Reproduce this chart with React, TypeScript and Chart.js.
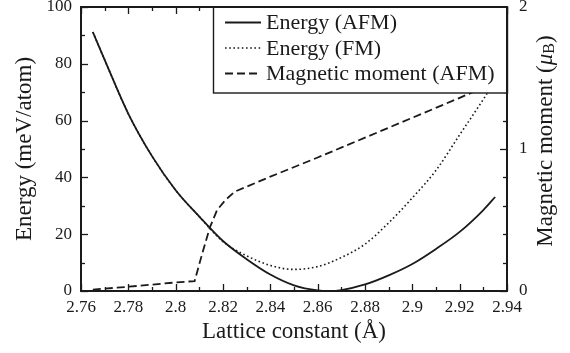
import React, { useEffect, useRef } from "react";
import { Chart, registerables } from "chart.js";

Chart.register(...registerables);

// ---- data ----
const afmX = [2.765, 2.77, 2.78, 2.79, 2.8, 2.81, 2.82, 2.83, 2.84, 2.85, 2.86, 2.865, 2.87, 2.88, 2.89, 2.9, 2.91, 2.92, 2.93, 2.935];
const afmE = [91.2, 81.4, 62.4, 47.5, 35.5, 26.2, 17.6, 11.2, 5.8, 2.0, 0.2, 0.0, 0.3, 2.3, 5.5, 9.5, 14.8, 20.8, 28.5, 33.1];

const fmX = [2.765, 2.77, 2.78, 2.79, 2.8, 2.81, 2.82, 2.83, 2.84, 2.85, 2.86, 2.87, 2.88, 2.89, 2.9, 2.91, 2.92, 2.93, 2.935];
const fmE = [91.2, 81.4, 62.4, 47.5, 35.5, 26.2, 17.4, 12.4, 9.0, 7.6, 8.6, 11.8, 16.5, 24.0, 32.8, 42.5, 55.0, 67.5, 74.0];

const momX = [2.765, 2.78, 2.79, 2.8, 2.808, 2.811, 2.8145, 2.8175, 2.821, 2.825, 2.84, 2.86, 2.88, 2.9, 2.92, 2.935];
const momM = [0.01, 0.03, 0.045, 0.06, 0.07, 0.25, 0.45, 0.57, 0.64, 0.7, 0.805, 0.94, 1.08, 1.22, 1.36, 1.47];

const xTicks = [2.76, 2.78, 2.8, 2.82, 2.84, 2.86, 2.88, 2.9, 2.92, 2.94];
const yTicks = [0, 20, 40, 60, 80, 100];
const y1Ticks = [0, 1, 2];

const legendLabels = ["Energy (AFM)", "Energy (FM)", "Magnetic moment (AFM)"];
const xTitle = "Lattice constant (Å)";
const yTitle = "Energy (meV/atom)";

const FONT = "'Liberation Serif', 'Times New Roman', serif";
const INK = "#1a1a1a";

const DOT = [1.6, 2.6];
const DASH = [8, 4];

function toPts(xs: number[], ys: number[]) {
  return xs.map((x, i) => ({ x, y: ys[i] }));
}

const framePlugin = {
  id: "frame",
  beforeDatasetsDraw(chart: any) {
    const { ctx, chartArea: a, scales } = chart;
    const xs = scales.x, ys = scales.y, y1 = scales.y1;
    ctx.save();
    ctx.strokeStyle = INK;
    ctx.lineWidth = 1.3;
    for (let i = 0; i <= 18; i++) {
      const v = 2.76 + i * 0.01;
      const p = Math.round(xs.getPixelForValue(v)) + 0.5;
      const len = i % 2 === 0 ? 7 : 4;
      ctx.beginPath();
      ctx.moveTo(p, a.bottom);
      ctx.lineTo(p, a.bottom - len);
      ctx.moveTo(p, a.top);
      ctx.lineTo(p, a.top + len);
      ctx.stroke();
    }
    for (let i = 0; i <= 10; i++) {
      const p = Math.round(ys.getPixelForValue(i * 10)) + 0.5;
      const len = i % 2 === 0 ? 7 : 4;
      ctx.beginPath();
      ctx.moveTo(a.left, p);
      ctx.lineTo(a.left + len, p);
      ctx.stroke();
    }
    for (let i = 0; i <= 10; i++) {
      const p = Math.round(y1.getPixelForValue(i * 0.2)) + 0.5;
      const len = i % 5 === 0 ? 7 : 4;
      ctx.beginPath();
      ctx.moveTo(a.right, p);
      ctx.lineTo(a.right - len, p);
      ctx.stroke();
    }
    ctx.restore();
  },
  afterDatasetsDraw(chart: any) {
    const { ctx, chartArea: a } = chart;
    ctx.save();
    // frame
    ctx.lineWidth = 2;
    ctx.strokeStyle = INK;
    ctx.strokeRect(a.left, a.top, a.right - a.left, a.bottom - a.top);
    // legend box
    const bx = 213, by = a.top, bw = a.right - 213, bh = 93 - a.top;
    ctx.fillStyle = "#ffffff";
    ctx.fillRect(bx, by, bw, bh);
    ctx.strokeStyle = INK;
    ctx.lineWidth = 1.4;
    ctx.strokeRect(bx + 0.5, by, bw, bh);
    ctx.lineWidth = 2;
    ctx.beginPath();
    ctx.moveTo(bx, a.top);
    ctx.lineTo(a.right, a.top);
    ctx.lineTo(a.right, 93);
    ctx.stroke();
    const rows = [22.5, 48, 73.5];
    const dashes = [[], DOT, DASH];
    const widths = [1.8, 1.6, 1.8];
    rows.forEach((ry, i) => {
      ctx.beginPath();
      ctx.setLineDash(dashes[i]);
      ctx.lineWidth = widths[i];
      ctx.moveTo(225, ry);
      ctx.lineTo(261, ry);
      ctx.stroke();
      ctx.setLineDash([]);
      ctx.fillStyle = INK;
      ctx.font = `22px ${FONT}`;
      ctx.textBaseline = "middle";
      ctx.textAlign = "left";
      ctx.fillText(legendLabels[i], 266, ry + 1);
    });
    ctx.restore();
  },
  afterDraw(chart: any) {
    const { ctx } = chart;
    ctx.save();
    ctx.translate(546, 141);
    ctx.rotate(-Math.PI / 2);
    ctx.fillStyle = INK;
    ctx.textBaseline = "middle";
    ctx.textAlign = "left";
    const main = `23px ${FONT}`;
    const ital = `italic 23px ${FONT}`;
    const sub = `16px ${FONT}`;
    const p1 = "Magnetic moment (";
    const mu = "μ";
    const b = "B";
    const p2 = ")";
    ctx.font = main;
    const w1 = ctx.measureText(p1).width;
    ctx.font = ital;
    const wm = ctx.measureText(mu).width;
    ctx.font = sub;
    const wb = ctx.measureText(b).width;
    ctx.font = main;
    const w2 = ctx.measureText(p2).width;
    const total = w1 + wm + wb + w2;
    let x = -total / 2;
    ctx.font = main;
    ctx.fillText(p1, x, 0);
    x += w1;
    ctx.font = ital;
    ctx.fillText(mu, x, 0);
    x += wm;
    ctx.font = sub;
    ctx.fillText(b, x, 4);
    x += wb;
    ctx.font = main;
    ctx.fillText(p2, x, 0);
    ctx.restore();
  },
};

export default function App() {
  const ref = useRef<HTMLCanvasElement>(null);
  useEffect(() => {
    document.body.style.margin = "0";
    const chart = new Chart(ref.current!, {
      type: "line",
      data: {
        datasets: [
          {
            label: legendLabels[0],
            data: toPts(afmX, afmE),
            borderColor: INK,
            borderWidth: 1.8,
            pointRadius: 0,
            cubicInterpolationMode: "monotone",
            yAxisID: "y",
          },
          {
            label: legendLabels[1],
            data: toPts(fmX, fmE),
            borderColor: INK,
            borderWidth: 1.6,
            borderDash: DOT,
            pointRadius: 0,
            cubicInterpolationMode: "monotone",
            yAxisID: "y",
          },
          {
            label: legendLabels[2],
            data: toPts(momX, momM),
            borderColor: INK,
            borderWidth: 1.8,
            borderDash: DASH,
            pointRadius: 0,
            tension: 0,
            yAxisID: "y1",
          },
        ],
      },
      options: {
        animation: false,
        responsive: false,
        devicePixelRatio: 1,
        layout: { padding: { top: 7, left: 0, right: 0, bottom: 0 } },
        plugins: { legend: { display: false }, tooltip: { enabled: false } },
        scales: {
          x: {
            type: "linear",
            min: 2.76,
            max: 2.94,
            grid: { display: false, drawTicks: false },
            border: { display: false },
            afterBuildTicks: (s: any) => {
              s.ticks = xTicks.map((v) => ({ value: v }));
            },
            afterFit: (s: any) => {
              s.height = 62;
              s.paddingLeft = 0;
              s.paddingRight = 0;
            },
            ticks: {
              color: INK,
              font: { family: FONT, size: 17 },
              padding: 6,
              maxRotation: 0,
              autoSkip: false,
              callback: (v: any) => String(parseFloat(Number(v).toFixed(2))),
            },
            title: {
              display: true,
              text: xTitle,
              color: INK,
              font: { family: FONT, size: 23 },
              padding: { top: 0, bottom: 7 },
            },
          },
          y: {
            position: "left",
            min: 0,
            max: 100,
            grid: { display: false, drawTicks: false },
            border: { display: false },
            afterBuildTicks: (s: any) => {
              s.ticks = yTicks.map((v) => ({ value: v }));
            },
            afterFit: (s: any) => {
              s.width = 81;
              s.paddingTop = 0;
              s.paddingBottom = 0;
            },
            ticks: {
              color: INK,
              font: { family: FONT, size: 17 },
              padding: 9,
            },
            title: {
              display: true,
              text: yTitle,
              color: INK,
              font: { family: FONT, size: 23 },
              padding: { top: 11, bottom: 0 },
            },
          },
          y1: {
            position: "right",
            min: 0,
            max: 2,
            grid: { display: false, drawTicks: false },
            border: { display: false },
            afterBuildTicks: (s: any) => {
              s.ticks = y1Ticks.map((v) => ({ value: v }));
            },
            afterFit: (s: any) => {
              s.width = 63;
              s.paddingTop = 0;
              s.paddingBottom = 0;
            },
            ticks: {
              color: INK,
              font: { family: FONT, size: 17 },
              padding: 12,
            },
          },
        },
      },
      plugins: [framePlugin],
    } as any);
    return () => chart.destroy();
  }, []);
  return (
    <div style={{ position: "absolute", left: 0, top: 0, width: 570, height: 353 }}>
      <canvas ref={ref} width={570} height={353} style={{ width: 570, height: 353 }} />
    </div>
  );
}
